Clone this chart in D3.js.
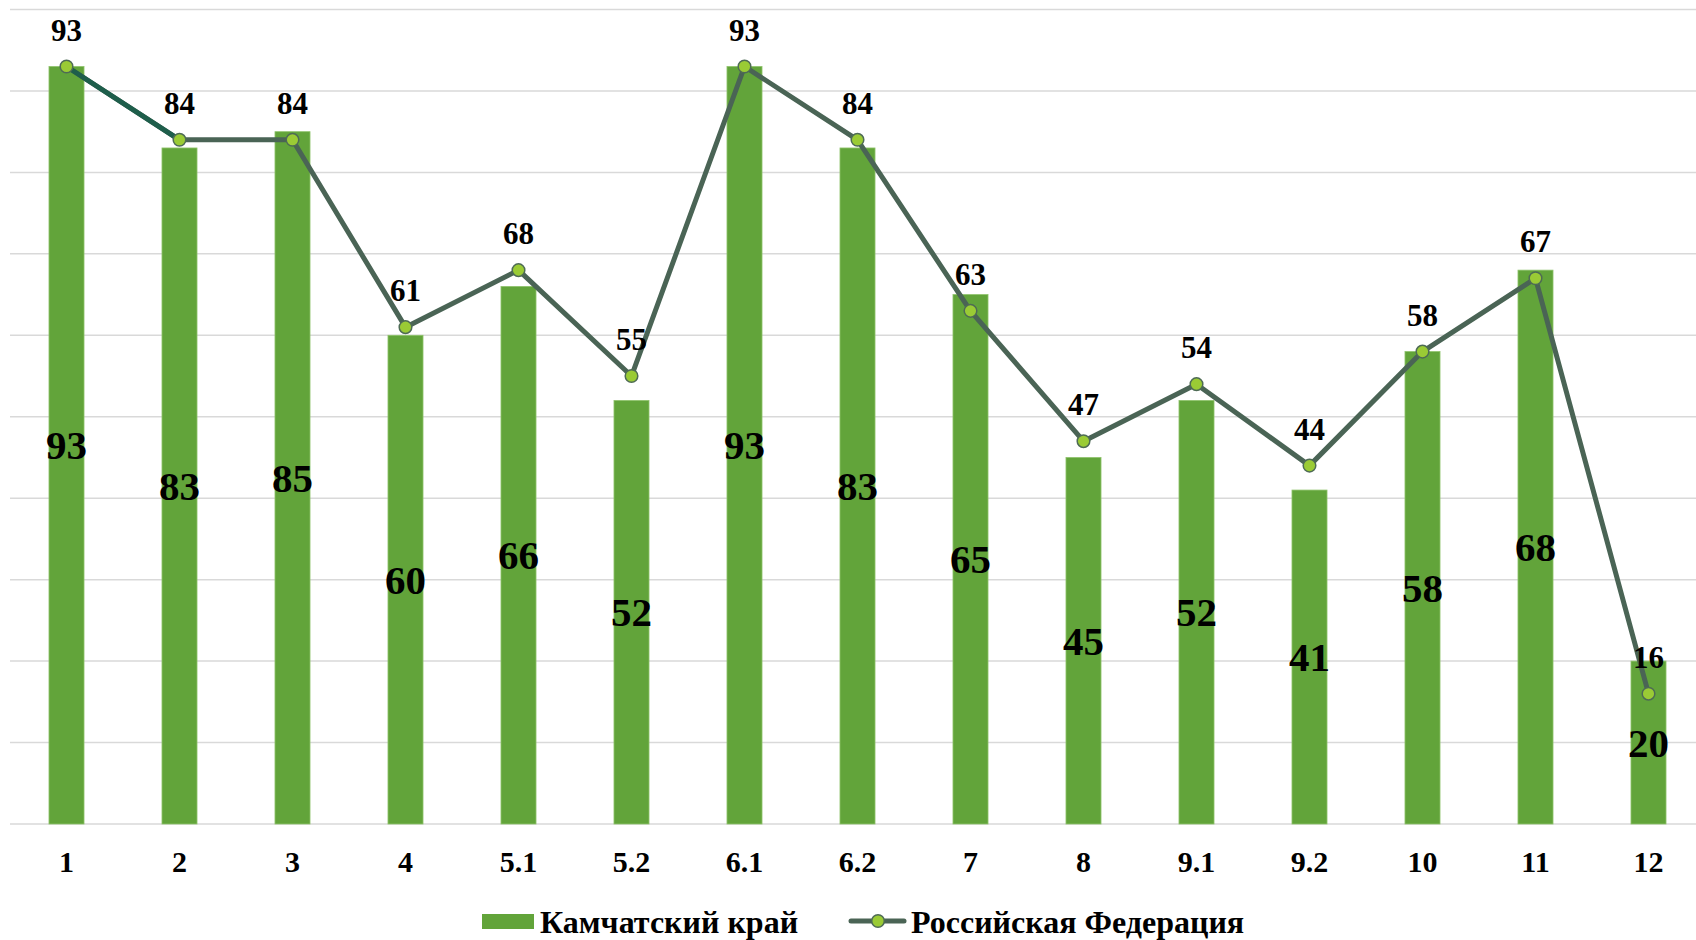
<!DOCTYPE html>
<html>
<head>
<meta charset="utf-8">
<script src="https://cdn.jsdelivr.net/npm/d3@7"></script>
<style>
  body { margin: 0; background: #fff; }
  text { font-family: "Liberation Serif", "Times New Roman", serif; font-weight: bold; fill: #000; }
</style>
</head>
<body>
<script>
var width = 1696,
    height = 940;

var categories = ["1", "2", "3", "4", "5.1", "5.2", "6.1", "6.2", "7", "8", "9.1", "9.2", "10", "11", "12"];
var kamchatka = [93, 83, 85, 60, 66, 52, 93, 83, 65, 45, 52, 41, 58, 68, 20];
var russia = [93, 84, 84, 61, 68, 55, 93, 84, 63, 47, 54, 44, 58, 67, 16];
var yTicks = [0, 10, 20, 30, 40, 50, 60, 70, 80, 90, 100];
var seriesNames = ["Камчатский край", "Российская Федерация"];

var barColor = "#62a43a",
    lineColor = "#4a6455",
    firstSegColor = "#1e5e4b",
    markerFill = "#9acb35";

var svg = d3.select("body")
            .append("svg")
            .attr("width", width)
            .attr("height", height);

// plot runs past the right edge, like the original
var x = d3.scaleBand().domain(categories).range([10, 1705]).padding(0);
var y = d3.scaleLinear().domain([0, 100]).range([824, 9.5]);

var barW = x.bandwidth() * 0.31;
function cx(d) { return x(d) + x.bandwidth() / 2; }

// gridlines
svg.append("g")
   .selectAll("line")
   .data(yTicks)
   .enter()
   .append("line")
   .attr("x1", 10)
   .attr("x2", width)
   .attr("y1", function(d) { return y(d); })
   .attr("y2", function(d) { return y(d); })
   .attr("stroke", "#d9d9d9")
   .attr("stroke-width", 1.5);

// bars
svg.append("g")
   .selectAll("rect")
   .data(categories)
   .enter()
   .append("rect")
   .attr("x", function(d) { return cx(d) - barW / 2; })
   .attr("y", function(d, i) { return y(kamchatka[i]); })
   .attr("width", barW)
   .attr("height", function(d, i) { return y(0) - y(kamchatka[i]); })
   .attr("fill", barColor)
   .attr("stroke", "#8fc36b")
   .attr("stroke-width", 0.8);

// bar labels (center)
svg.append("g")
   .selectAll("text")
   .data(categories)
   .enter()
   .append("text")
   .attr("x", function(d) { return cx(d); })
   .attr("y", function(d, i) { return (y(0) + y(kamchatka[i])) / 2 + 14; })
   .attr("text-anchor", "middle")
   .style("font-size", "41px")
   .text(function(d, i) { return kamchatka[i]; });

// line
var pts = categories.map(function(d, i) { return [cx(d), y(russia[i])]; });
var line = d3.line();

svg.append("path")
   .attr("d", line(pts))
   .attr("fill", "none")
   .attr("stroke", lineColor)
   .attr("stroke-width", 5)
   .attr("stroke-linejoin", "round");

svg.append("path")
   .attr("d", line(pts.slice(0, 2)))
   .attr("fill", "none")
   .attr("stroke", firstSegColor)
   .attr("stroke-width", 5);

svg.append("g")
   .selectAll("circle")
   .data(pts)
   .enter()
   .append("circle")
   .attr("cx", function(d) { return d[0]; })
   .attr("cy", function(d) { return d[1]; })
   .attr("r", 6.3)
   .attr("fill", markerFill)
   .attr("stroke", "#4e6b55")
   .attr("stroke-width", 1.5);

svg.append("g")
   .selectAll("text")
   .data(categories)
   .enter()
   .append("text")
   .attr("x", function(d) { return cx(d); })
   .attr("y", function(d, i) { return y(russia[i]) - 26; })
   .attr("text-anchor", "middle")
   .style("font-size", "31px")
   .text(function(d, i) { return russia[i]; });

// x axis labels
svg.append("g")
   .selectAll("text")
   .data(categories)
   .enter()
   .append("text")
   .attr("x", function(d) { return cx(d); })
   .attr("y", 872)
   .attr("text-anchor", "middle")
   .style("font-size", "30px")
   .text(function(d) { return d; });

// legend
var legend = svg.append("g");

legend.append("rect")
      .attr("x", 482)
      .attr("y", 914)
      .attr("width", 52)
      .attr("height", 15)
      .attr("fill", barColor);

legend.append("text")
      .attr("x", 540)
      .attr("y", 933)
      .style("font-size", "32px")
      .text(seriesNames[0]);

legend.append("line")
      .attr("x1", 851)
      .attr("x2", 904)
      .attr("y1", 921)
      .attr("y2", 921)
      .attr("stroke", lineColor)
      .attr("stroke-width", 5)
      .attr("stroke-linecap", "round");

legend.append("circle")
      .attr("cx", 878)
      .attr("cy", 921)
      .attr("r", 6.3)
      .attr("fill", markerFill)
      .attr("stroke", "#4e6b55")
      .attr("stroke-width", 1.5);

legend.append("text")
      .attr("x", 911)
      .attr("y", 933)
      .style("font-size", "32px")
      .text(seriesNames[1]);
</script>
</body>
</html>
